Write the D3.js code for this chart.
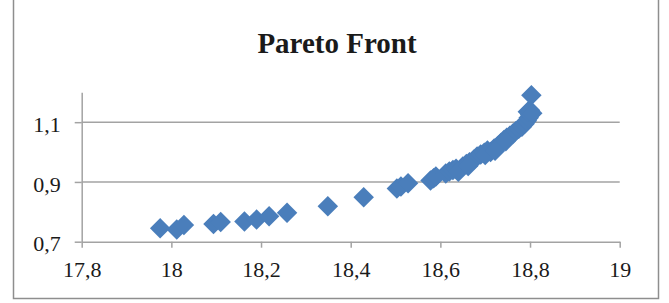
<!DOCTYPE html>
<html>
<head>
<meta charset="utf-8">
<script src="https://cdn.jsdelivr.net/npm/d3@7"></script>
<style>
  html, body { margin: 0; padding: 0; background: #fff; }
  svg { display: block; }
  text { font-family: "Liberation Serif", "Times New Roman", serif; fill: #1a1a1a; }
</style>
</head>
<body>
<svg id="chart" width="669" height="303"></svg>
<script>
const title = "Pareto Front";
const xTicks = [17.8, 18, 18.2, 18.4, 18.6, 18.8, 19];
const yTicks = [0.7, 0.9, 1.1];
const xDomain = [17.8, 19];
const yDomain = [0.7, 1.2];

const xValues = [
  17.975, 18.012, 18.028, 18.094, 18.110, 18.163, 18.190, 18.218, 18.258,
  18.349, 18.429, 18.503, 18.512, 18.528,
  18.578, 18.585, 18.590, 18.612, 18.620, 18.628, 18.635, 18.650, 18.658,
  18.665, 18.675, 18.682, 18.690, 18.698, 18.705, 18.712, 18.720, 18.728,
  18.735, 18.742, 18.748, 18.755, 18.762, 18.768, 18.775, 18.782, 18.788,
  18.793, 18.797, 18.800, 18.800, 18.803,
  18.640, 18.662, 18.700, 18.722, 18.746, 18.795, 18.805
];
const yValues = [
  0.745, 0.741, 0.756, 0.759, 0.766, 0.768, 0.774, 0.785, 0.797,
  0.819, 0.849, 0.878, 0.885, 0.896,
  0.905, 0.912, 0.918, 0.928, 0.935, 0.940, 0.944, 0.952, 0.960,
  0.966, 0.975, 0.985, 0.992, 0.998, 1.005, 1.000, 1.012, 1.020,
  1.030, 1.040, 1.048, 1.055, 1.062, 1.070, 1.078, 1.085, 1.095,
  1.105, 1.115, 1.125, 1.140, 1.190,
  0.934, 0.953, 0.990, 1.004, 1.036, 1.135, 1.130
];

const svg = d3.select("#chart");
const x = d3.scaleLinear().domain(xDomain).range([81.7, 619.7]);
const y = d3.scaleLinear().domain(yDomain).range([241.7, 92.3]);
const fmt = d => String(d).replace(".", ",");
const gray = "#a3a3a3";

// outer chart border
svg.append("rect")
  .attr("x", 13.5).attr("y", -10)
  .attr("width", 645).attr("height", 308.5)
  .attr("fill", "none").attr("stroke", "#8e8e8e").attr("stroke-width", 1.5);

// title
svg.append("text")
  .attr("x", 337).attr("y", 53)
  .attr("text-anchor", "middle")
  .style("font-size", "29px").style("font-weight", "bold")
  .text(title);

// gridlines
svg.append("g").selectAll("line")
  .data(yTicks.slice(1))
  .join("line")
  .attr("x1", x(xDomain[0])).attr("x2", x(xDomain[1]))
  .attr("y1", d => y(d)).attr("y2", d => y(d))
  .attr("stroke", gray).attr("stroke-width", 1.5);

// x axis
const xAxis = svg.append("g")
  .attr("transform", `translate(0,${y(yDomain[0])})`)
  .call(d3.axisBottom(x).tickValues(xTicks).tickFormat(fmt).tickSize(6).tickSizeOuter(0).tickPadding(14));
xAxis.select(".domain").attr("stroke", gray).attr("stroke-width", 1.5);
xAxis.selectAll(".tick line").attr("stroke", gray).attr("stroke-width", 1.5);
xAxis.selectAll(".tick text")
  .style("font-family", "'Liberation Serif', serif").style("font-size", "22px").attr("fill", "#1a1a1a");

// y axis
const yAxis = svg.append("g")
  .attr("transform", `translate(${x(xDomain[0])},0)`)
  .call(d3.axisLeft(y).tickValues(yTicks).tickFormat(fmt).tickSize(7).tickSizeOuter(0).tickPadding(14));
yAxis.select(".domain").attr("stroke", gray).attr("stroke-width", 1.5);
yAxis.selectAll(".tick line").attr("stroke", gray).attr("stroke-width", 1.5);
yAxis.selectAll(".tick text")
  .style("font-family", "'Liberation Serif', serif").style("font-size", "22px").attr("fill", "#1a1a1a")
  .attr("dy", "0.42em");

// markers
const pts = xValues.map((v, i) => ({ x: v, y: yValues[i] }));
const sym = d3.symbol().type(d3.symbolSquare).size(210);
svg.append("g").selectAll("path")
  .data(pts)
  .join("path")
  .attr("d", sym)
  .attr("transform", d => `translate(${x(d.x)},${y(d.y)}) rotate(45)`)
  .attr("fill", "#4a7ebb");
</script>
</body>
</html>
